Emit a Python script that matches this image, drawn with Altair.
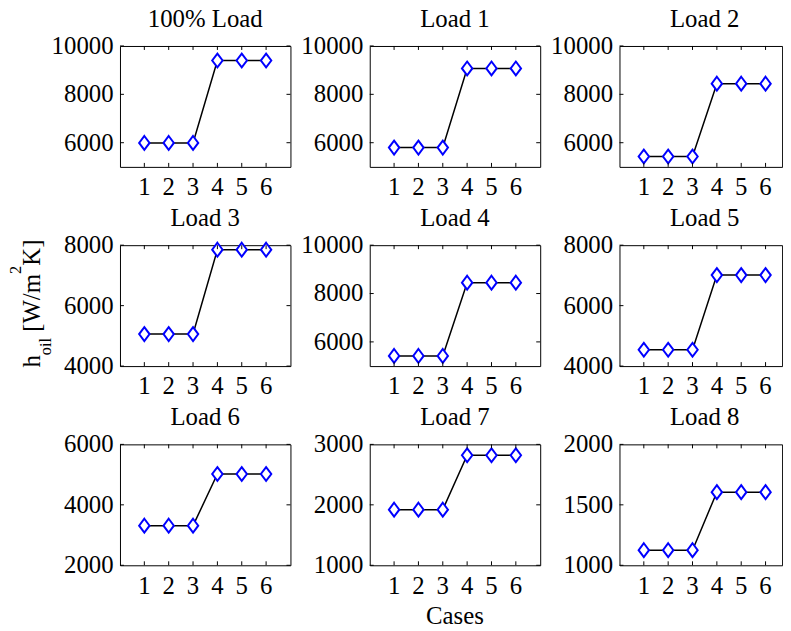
import altair as alt
import pandas as pd

# ---------------- data ----------------
cases = [1, 2, 3, 4, 5, 6]
titles = ["100% Load", "Load 1", "Load 2", "Load 3", "Load 4",
          "Load 5", "Load 6", "Load 7", "Load 8"]

h_100 = [5990, 5990, 5990, 9400, 9400, 9400]
h_load1 = [5800, 5800, 5800, 9070, 9070, 9070]
h_load2 = [5430, 5430, 5430, 8440, 8440, 8440]
h_load3 = [5060, 5060, 5060, 7850, 7850, 7850]
h_load4 = [5420, 5420, 5420, 8450, 8450, 8450]
h_load5 = [4540, 4540, 4540, 7010, 7010, 7010]
h_load6 = [3310, 3310, 3310, 5020, 5020, 5020]
h_load7 = [1920, 1920, 1920, 2820, 2820, 2820]
h_load8 = [1125, 1125, 1125, 1605, 1605, 1605]
series = [h_100, h_load1, h_load2, h_load3, h_load4,
          h_load5, h_load6, h_load7, h_load8]

y_domains = [[5000, 10000], [5000, 10000], [5000, 10000],
             [4000, 8000], [5000, 10000], [4000, 8000],
             [2000, 6000], [1000, 3000], [1000, 2000]]
y_ticks = [[6000, 8000, 10000], [6000, 8000, 10000], [6000, 8000, 10000],
           [4000, 6000, 8000], [6000, 8000, 10000], [4000, 6000, 8000],
           [2000, 4000, 6000], [1000, 2000, 3000], [1000, 1500, 2000]]

# ---------------- style ----------------
F_TITLE = "Liberation Serif"
F_LABEL = "Times New Roman"
FONT = "serif"
FS = 25
W, H = 172, 122
X_MAX_FULL = 7
X_MAX_LAST = 6.68          # right-most column is cut by the frame edge
DIAMOND = "M0,-1L0.75,0L0,1L-0.75,0Z"
TICK = 4


def text_piece(txt, size, px, py, angle=270, align="left"):
    return alt.Chart(alt.Data(values=[{}])).mark_text(
        text=txt, angle=angle, align=align, baseline="alphabetic",
        font=FONT, fontSize=size, color="black"
    ).encode(x=alt.value(px), y=alt.value(py))


def panel(i):
    col = i % 3
    xmax = X_MAX_FULL if col < 2 else X_MAX_LAST
    w = W if col < 2 else round(W * X_MAX_LAST / X_MAX_FULL, 1)
    df = pd.DataFrame({"case": cases, "h": series[i]})
    ydf = pd.DataFrame({"v": y_ticks[i]})

    xs = alt.Scale(domain=[0, xmax], nice=False, zero=False)
    ys = alt.Scale(domain=y_domains[i], nice=False, zero=False)
    X = lambda f: alt.X(f, scale=xs, axis=None)
    Y = lambda f: alt.Y(f, scale=ys, axis=None)

    line = alt.Chart(df).mark_line(color="black", strokeWidth=1.5).encode(
        x=X("case:Q"), y=Y("h:Q"))
    pts = alt.Chart(df).mark_point(
        shape=DIAMOND, size=196, filled=True, color="white", opacity=1,
        stroke="#0000ff", strokeWidth=2
    ).encode(x=X("case:Q"), y=Y("h:Q"))

    rule = dict(color="black", strokeWidth=1)
    layers = [
        line, pts,
        # inward tick marks (MATLAB box)
        alt.Chart(df).mark_rule(**rule).encode(
            x=X("case:Q"), y=alt.value(H), y2=alt.value(H - TICK)),
        alt.Chart(df).mark_rule(**rule).encode(
            x=X("case:Q"), y=alt.value(0), y2=alt.value(TICK)),
        alt.Chart(ydf).mark_rule(**rule).encode(
            y=Y("v:Q"), x=alt.value(0), x2=alt.value(TICK)),
        # tick labels
        alt.Chart(df).mark_text(font=F_LABEL, fontSize=FS, color="black",
                                align="center", baseline="alphabetic").encode(
            x=X("case:Q"), y=alt.value(H + 28.5), text=alt.Text("case:Q")),
        alt.Chart(ydf).mark_text(font=F_LABEL, fontSize=FS, color="black",
                                 align="right", baseline="middle").encode(
            y=Y("v:Q"), x=alt.value(-6.5), text=alt.Text("v:Q", format="d")),
    ]
    if col < 2:
        layers.append(alt.Chart(ydf).mark_rule(**rule).encode(
            y=Y("v:Q"), x=alt.value(w - TICK), x2=alt.value(w)))

    if i == 3:
        # y-axis title h_oil [W/m^2K] with sub/superscripts
        layers += [
            text_piece("h", FS, -81, 123.5),
            text_piece("oil", 16.5, -70, 111.0),
            text_piece("[W/m", FS, -81, 87.4),
            text_piece("2", 16.5, -99.5, 29.0),
            text_piece("K]", FS, -81, 20.7),
        ]
    if i == 7:
        layers.append(text_piece("Cases", FS, W / 2, H + 59,
                                 angle=0, align="center"))

    return alt.layer(*layers).properties(
        width=w, height=H,
        title=alt.TitleParams(text=titles[i], fontSize=FS, font=F_TITLE,
                              fontWeight="normal", color="black", offset=2.5,
                              frame="group", anchor="middle",
                              dx=(W - w) / 2)
    )


chart = alt.concat(
    *[panel(i) for i in range(9)],
    columns=3,
    spacing={"row": 79, "column": 80},
    bounds="flush",
    padding={"top": -4.5, "left": 0, "right": 0, "bottom": 0},
    background="white",
).configure_view(stroke="black", strokeWidth=1)

chart.save("out.html", embed_options={"renderer": "svg", "actions": False})
